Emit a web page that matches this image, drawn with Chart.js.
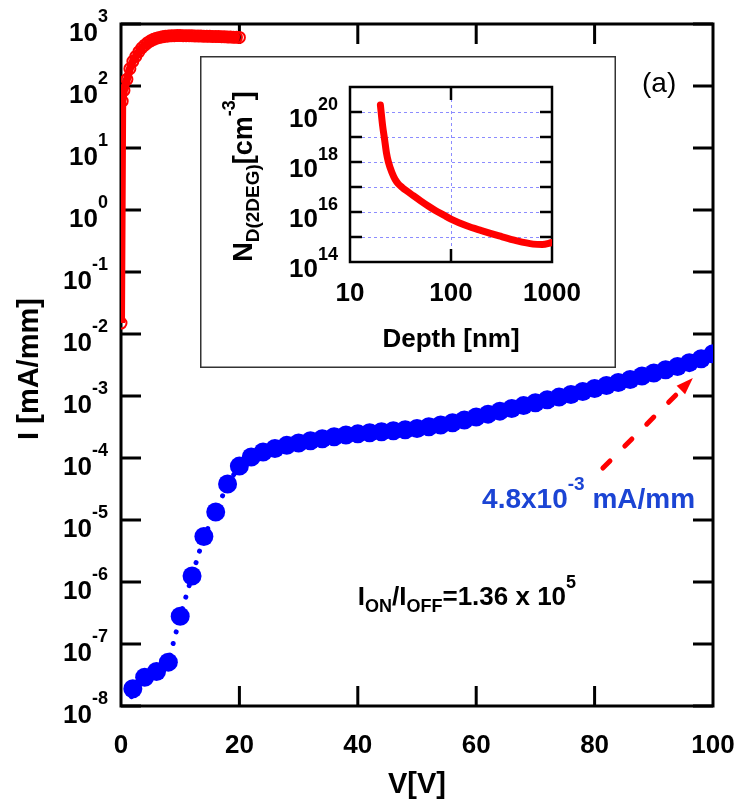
<!DOCTYPE html>
<html>
<head>
<meta charset="utf-8">
<script src="https://cdn.jsdelivr.net/npm/chart.js@4.4.0/dist/chart.umd.min.js"></script>
<style>
  body { margin: 0; background: #fff; }
  #wrap { position: relative; width: 740px; height: 809px; }
  #mainChart { position: absolute; left: 0; top: 0; }
  #insetChart { position: absolute; left: 200px; top: 56px; }
</style>
</head>
<body>
<div id="wrap">
  <canvas id="mainChart" width="740" height="809"></canvas>
  <canvas id="insetChart" width="416" height="312"></canvas>
</div>
<script>
// Courbe ON (rouge)
const vOn = [0, 0.2, 0.5, 1, 1.5, 2, 2.5, 3, 3.5, 4, 4.5, 5, 5.5, 6, 6.5, 7, 7.5, 8, 8.5, 9, 9.5, 10,
  10.5, 11, 11.5, 12, 12.5, 13, 13.5, 14, 14.5, 15, 15.5, 16, 16.5, 17, 17.5, 18, 18.5, 19, 19.5, 20];
const iOn = [0.015, 57, 85, 128, 190, 250, 300, 355, 410, 455, 500, 535, 565, 590, 608, 622, 633, 640, 645, 648, 650, 650,
  649, 648, 647, 645, 643, 641, 639, 637, 635, 633, 631, 629, 627, 624, 622, 619, 616, 613, 610, 607];

// Courbe OFF (bleue)
const vOff = [0, 2, 4, 6, 8, 10, 12, 14, 16, 18, 20, 22, 24, 26, 28, 30, 32, 34, 36, 38, 40, 42, 44, 46, 48, 50,
  52, 54, 56, 58, 60, 62, 64, 66, 68, 70, 72, 74, 76, 78, 80, 82, 84, 86, 88, 90, 92, 94, 96, 98, 100];
const iOff = [1e-9, 1.9e-8, 2.9e-8, 3.6e-8, 5.1e-8, 2.8e-7, 1.25e-6, 5.4e-6, 1.35e-5, 3.8e-5, 7.4e-5,
  1.04e-4, 1.25e-4, 1.42e-4, 1.6e-4, 1.75e-4, 1.9e-4, 2.05e-4, 2.2e-4, 2.35e-4, 2.45e-4,
  2.55e-4, 2.65e-4, 2.75e-4, 2.85e-4, 3.0e-4, 3.2e-4, 3.4e-4, 3.7e-4, 4.1e-4, 4.6e-4,
  5.1e-4, 5.7e-4, 6.3e-4, 7.0e-4, 7.8e-4, 8.7e-4, 9.6e-4, 1.06e-3, 1.18e-3, 1.32e-3,
  1.48e-3, 1.65e-3, 1.85e-3, 2.1e-3, 2.35e-3, 2.65e-3, 3.0e-3, 3.45e-3, 4.0e-3, 4.8e-3];

// Encart : profil de dopage
const depthNm = [20, 21, 22, 23, 24, 26, 28, 30, 33, 36, 42, 50, 60, 70, 85, 100, 143, 200, 300, 450, 650, 800, 1000];
const dopingCm3 = [1.9e20, 3e19, 8e18, 2.2e18, 1e18, 3.8e17, 2e17, 1.35e17, 9.5e16, 7.2e16, 4.6e16, 2.8e16, 1.7e16,
  1.15e16, 7.5e15, 5.2e15, 2.8e15, 1.8e15, 1.1e15, 7e14, 5.2e14, 5e14, 6e14];

// Graduations
const xTicksMain = [0, 20, 40, 60, 80, 100];
const yExpMain = [3, 2, 1, 0, -1, -2, -3, -4, -5, -6, -7, -8];
const xTicksInset = [10, 100, 1000];
const yExpInsetLabels = [14, 16, 18, 20];
const yExpInsetTicks = [15, 16, 17, 18, 19, 20];

const FONT = '"Liberation Sans", Arial, Helvetica, sans-serif';

// Texte avec indices / exposants : runs = [{t, size, dy}]
function richText(ctx, runs, x, y, opts = {}) {
  ctx.save();
  ctx.translate(x, y);
  if (opts.rotate) ctx.rotate(opts.rotate);
  ctx.fillStyle = opts.color || '#000';
  ctx.textBaseline = 'alphabetic';
  ctx.textAlign = 'left';
  const weight = opts.weight || 'bold';
  let total = 0;
  runs.forEach(r => {
    ctx.font = weight + ' ' + r.size + 'px ' + FONT;
    total += ctx.measureText(r.t).width;
  });
  let cx = opts.align === 'right' ? -total : (opts.align === 'center' ? -total / 2 : 0);
  runs.forEach(r => {
    ctx.font = weight + ' ' + r.size + 'px ' + FONT;
    ctx.fillText(r.t, cx, -(r.dy || 0));
    cx += ctx.measureText(r.t).width;
  });
  ctx.restore();
}

// Cadre, graduations et annotations du graphique principal
const mainDecor = {
  id: 'mainDecor',
  beforeDatasetsDraw(chart) {
    const { ctx, chartArea: a, scales: { x, y } } = chart;
    ctx.save();
    ctx.strokeStyle = '#000';
    ctx.lineWidth = 3;
    ctx.strokeRect(a.left, a.top, a.right - a.left, a.bottom - a.top);
    ctx.beginPath();
    yExpMain.forEach(e => {
      const py = y.getPixelForValue(Math.pow(10, e));
      ctx.moveTo(a.left, py); ctx.lineTo(a.left + 20, py);
      ctx.moveTo(a.right, py); ctx.lineTo(a.right - 20, py);
    });
    xTicksMain.slice(1, -1).forEach(v => {
      const px = x.getPixelForValue(v);
      ctx.moveTo(px, a.bottom); ctx.lineTo(px, a.bottom - 20);
      ctx.moveTo(px, a.top); ctx.lineTo(px, a.top + 20);
    });
    ctx.stroke();
    ctx.restore();
  },
  afterDraw(chart) {
    const { ctx, chartArea: a, scales: { x, y } } = chart;
    yExpMain.forEach(e => {
      const py = y.getPixelForValue(Math.pow(10, e));
      richText(ctx, [{ t: '10', size: 26 }, { t: String(e), size: 18, dy: 19 }], 108, py + 17, { align: 'right' });
    });
    xTicksMain.forEach(v => {
      richText(ctx, [{ t: String(v), size: 26 }], x.getPixelForValue(v), a.bottom + 47, { align: 'center' });
    });
    // Titres des axes
    richText(ctx, [{ t: 'I [mA/mm]', size: 29 }], 38, (a.top + a.bottom) / 2 + 4, { align: 'center', rotate: -Math.PI / 2 });
    richText(ctx, [{ t: 'V[V]', size: 29 }], (a.left + a.right) / 2, a.bottom + 87, { align: 'center' });
    richText(ctx, [{ t: '(a)', size: 28 }], x.getPixelForValue(90.9), y.getPixelForValue(100) + 6, { align: 'center', weight: 'normal' });

    // Annotation bleue
    richText(ctx, [{ t: '4.8x10', size: 28 }, { t: '-3', size: 19, dy: 18 }, { t: ' mA/mm', size: 28 }],
      x.getPixelForValue(61), y.getPixelForValue(1.55e-5), { color: '#1b44d4' });

    // Rapport ION/IOFF
    richText(ctx, [{ t: 'I', size: 26 }, { t: 'ON', size: 18, dy: -7 }, { t: '/I', size: 26 }, { t: 'OFF', size: 18, dy: -7 },
      { t: '=1.36 x 10', size: 26 }, { t: '5', size: 18, dy: 17 }],
      x.getPixelForValue(40), y.getPixelForValue(4.3e-7));

    // Flèche rouge en tirets
    const x0 = x.getPixelForValue(81.4), y0 = y.getPixelForValue(6.9e-5);
    const x1 = x.getPixelForValue(96.6), y1 = y.getPixelForValue(1.95e-3);
    const ang = Math.atan2(y1 - y0, x1 - x0);
    const head = 17;
    ctx.save();
    ctx.strokeStyle = '#ff0000';
    ctx.fillStyle = '#ff0000';
    ctx.lineWidth = 5;
    ctx.lineCap = 'round';
    ctx.setLineDash([10, 21]);
    ctx.beginPath();
    ctx.moveTo(x0, y0);
    ctx.lineTo(x1 - head * Math.cos(ang), y1 - head * Math.sin(ang));
    ctx.stroke();
    ctx.setLineDash([]);
    ctx.beginPath();
    ctx.moveTo(x1, y1);
    ctx.lineTo(x1 - head * Math.cos(ang) + 6 * Math.sin(ang), y1 - head * Math.sin(ang) - 6 * Math.cos(ang));
    ctx.lineTo(x1 - head * Math.cos(ang) - 6 * Math.sin(ang), y1 - head * Math.sin(ang) + 6 * Math.cos(ang));
    ctx.closePath();
    ctx.fill();
    ctx.restore();
  }
};

new Chart(document.getElementById('mainChart'), {
  type: 'line',
  data: {
    datasets: [{
      data: vOn.map((v, i) => ({ x: v, y: iOn[i] })),
      borderColor: '#ff0000',
      borderWidth: 8,
      pointRadius: 5.5,
      pointBorderWidth: 2,
      pointBorderColor: '#ff0000',
      pointBackgroundColor: 'rgba(255,255,255,0)',
      tension: 0
    }, {
      data: vOff.map((v, i) => ({ x: v, y: iOff[i] })),
      borderColor: '#0000ff',
      borderWidth: 5,
      borderDash: [0.01, 12],
      borderCapStyle: 'round',
      pointRadius: c => (c.raw && c.raw.y < 1e-8 ? 0 : 9.5),
      pointBorderWidth: 0,
      pointBackgroundColor: '#0000ff',
      tension: 0
    }]
  },
  options: {
    responsive: false,
    animation: false,
    events: [],
    layout: { padding: { left: 121, top: 24, right: 27, bottom: 103 } },
    scales: {
      x: { type: 'linear', min: 0, max: 100, display: false },
      y: { type: 'logarithmic', min: 1e-8, max: 1e3, display: false }
    },
    plugins: { legend: { display: false }, tooltip: { enabled: false } }
  },
  plugins: [mainDecor]
});

// Encart
const insetDecor = {
  id: 'insetDecor',
  beforeDraw(chart) {
    const { ctx, width, height } = chart;
    ctx.save();
    ctx.fillStyle = '#fff';
    ctx.fillRect(0, 0, width, height);
    ctx.strokeStyle = '#333';
    ctx.lineWidth = 1.5;
    ctx.strokeRect(0.75, 0.75, width - 1.5, height - 1.5);
    ctx.restore();
  },
  beforeDatasetsDraw(chart) {
    const { ctx, chartArea: a, scales: { x, y } } = chart;
    ctx.save();
    // grille en tirets
    ctx.strokeStyle = '#8c8cff';
    ctx.lineWidth = 1;
    ctx.setLineDash([3, 3]);
    ctx.beginPath();
    yExpInsetTicks.forEach(e => {
      const py = Math.round(y.getPixelForValue(Math.pow(10, e))) + 0.5;
      ctx.moveTo(a.left, py); ctx.lineTo(a.right, py);
    });
    const gx = Math.round(x.getPixelForValue(100)) + 0.5;
    ctx.moveTo(gx, a.top); ctx.lineTo(gx, a.bottom);
    ctx.stroke();
    ctx.setLineDash([]);
    // cadre et graduations
    ctx.strokeStyle = '#000';
    ctx.lineWidth = 2.5;
    ctx.strokeRect(a.left, a.top, a.right - a.left, a.bottom - a.top);
    ctx.beginPath();
    yExpInsetTicks.forEach(e => {
      const py = y.getPixelForValue(Math.pow(10, e));
      ctx.moveTo(a.left, py); ctx.lineTo(a.left + 12, py);
      ctx.moveTo(a.right, py); ctx.lineTo(a.right - 12, py);
    });
    const tx = x.getPixelForValue(100);
    ctx.moveTo(tx, a.bottom); ctx.lineTo(tx, a.bottom - 13);
    ctx.moveTo(tx, a.top); ctx.lineTo(tx, a.top + 13);
    ctx.stroke();
    ctx.restore();
  },
  afterDraw(chart) {
    const { ctx, chartArea: a, scales: { x, y } } = chart;
    yExpInsetLabels.forEach(e => {
      const py = y.getPixelForValue(Math.pow(10, e));
      richText(ctx, [{ t: '10', size: 26 }, { t: String(e), size: 18, dy: 17 }], a.left - 12, py + 15, { align: 'right' });
    });
    xTicksInset.forEach(v => {
      richText(ctx, [{ t: String(v), size: 26 }], x.getPixelForValue(v), a.bottom + 39, { align: 'center' });
    });
    richText(ctx, [{ t: 'Depth [nm]', size: 26 }], (a.left + a.right) / 2, a.bottom + 85, { align: 'center' });
    richText(ctx, [{ t: 'N', size: 27 }, { t: 'D(2DEG)', size: 19, dy: -7 }, { t: '[cm', size: 27 },
      { t: '-3', size: 18, dy: 17 }, { t: ']', size: 27 }],
      52, (a.top + a.bottom) / 2 + 2, { align: 'center', rotate: -Math.PI / 2 });
  }
};

new Chart(document.getElementById('insetChart'), {
  type: 'line',
  data: {
    datasets: [{
      data: depthNm.map((d, i) => ({ x: d, y: dopingCm3[i] })),
      borderColor: '#ff0000',
      borderWidth: 7,
      borderCapStyle: 'round',
      borderJoinStyle: 'round',
      pointRadius: 0,
      cubicInterpolationMode: 'monotone'
    }]
  },
  options: {
    responsive: false,
    animation: false,
    events: [],
    layout: { padding: { left: 150, top: 31, right: 64, bottom: 106 } },
    scales: {
      x: { type: 'logarithmic', min: 10, max: 1000, display: false },
      y: { type: 'logarithmic', min: 1e14, max: 1e21, display: false }
    },
    plugins: { legend: { display: false }, tooltip: { enabled: false } }
  },
  plugins: [insetDecor]
});
</script>
</body>
</html>
